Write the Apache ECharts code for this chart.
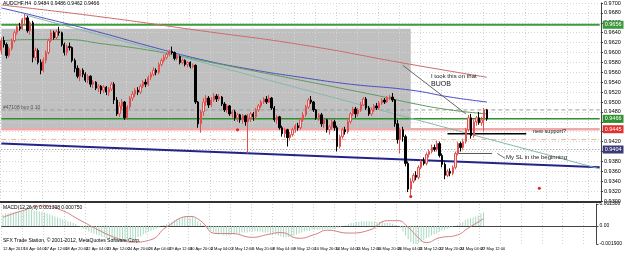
<!DOCTYPE html>
<html>
<head>
<meta charset="utf-8">
<script src="https://cdn.jsdelivr.net/npm/echarts@6/dist/echarts.min.js"></script>
<style>
  html, body { margin: 0; padding: 0; background: #fff; }
  #chart { width: 625px; height: 254px; }
</style>
</head>
<body>
<div id="chart"></div>
<script>
// AUDCHF H4, 12 Apr - 27 May 2013
const tickLabels = ['12 Apr 2013', '16 Apr 04:00', '17 Apr 12:00', '18 Apr 20:00', '22 Apr 04:00', '23 Apr 12:00',
  '24 Apr 20:00', '26 Apr 04:00', '29 Apr 12:00', '30 Apr 20:00', '2 May 04:00', '3 May 12:00', '6 May 20:00',
  '8 May 04:00', '9 May 12:00', '10 May 20:00', '14 May 04:00', '15 May 12:00', '16 May 20:00', '20 May 04:00',
  '21 May 12:00', '22 May 20:00', '24 May 04:00', '27 May 12:00'];
const slots = 229; // bars + empty space on the right

const opens = [0.9604,0.9624,0.9616,0.9594,0.9608,0.9624,0.9640,0.9652,0.9648,0.9666,
  0.9670,0.9644,0.9660,0.9590,0.9604,0.9580,0.9564,0.9584,0.9600,0.9624,
  0.9640,0.9630,0.9642,0.9640,0.9616,0.9600,0.9612,0.9610,0.9584,0.9568,
  0.9552,0.9564,0.9556,0.9544,0.9552,0.9536,0.9540,0.9528,0.9532,0.9524,
  0.9530,0.9520,0.9526,0.9536,0.9504,0.9476,0.9492,0.9500,0.9468,0.9490,
  0.9508,0.9516,0.9524,0.9520,0.9532,0.9540,0.9536,0.9550,0.9556,0.9564,
  0.9560,0.9576,0.9584,0.9590,0.9596,0.9602,0.9600,0.9588,0.9592,0.9580,
  0.9584,0.9576,0.9580,0.9572,0.9574,0.9500,0.9456,0.9480,0.9500,0.9508,
  0.9494,0.9504,0.9512,0.9506,0.9510,0.9496,0.9484,0.9492,0.9476,0.9480,
  0.9468,0.9474,0.9464,0.9472,0.9460,0.9468,0.9476,0.9470,0.9484,0.9492,
  0.9500,0.9506,0.9500,0.9508,0.9488,0.9464,0.9470,0.9448,0.9436,0.9444,
  0.9428,0.9434,0.9444,0.9452,0.9448,0.9464,0.9474,0.9490,0.9504,0.9500,
  0.9484,0.9468,0.9474,0.9456,0.9464,0.9444,0.9450,0.9460,0.9448,0.9410,
  0.9430,0.9444,0.9440,0.9460,0.9476,0.9486,0.9476,0.9484,0.9494,0.9506,
  0.9488,0.9476,0.9484,0.9492,0.9488,0.9498,0.9504,0.9500,0.9508,0.9510,
  0.9504,0.9456,0.9424,0.9444,0.9430,0.9376,0.9324,0.9340,0.9352,0.9348,
  0.9368,0.9380,0.9376,0.9394,0.9400,0.9408,0.9404,0.9416,0.9392,0.9374,
  0.9352,0.9360,0.9356,0.9368,0.9396,0.9416,0.9408,0.9420,0.9444,0.9468,
  0.9432,0.9460,0.9468,0.9458,0.9464,0.9484];
const closes = [0.9624,0.9616,0.9594,0.9608,0.9624,0.9640,0.9652,0.9648,0.9666,0.9670,
  0.9644,0.9660,0.9590,0.9604,0.9580,0.9564,0.9584,0.9600,0.9624,0.9640,
  0.9630,0.9642,0.9640,0.9616,0.9600,0.9612,0.9610,0.9584,0.9568,0.9552,
  0.9564,0.9556,0.9544,0.9552,0.9536,0.9540,0.9528,0.9532,0.9524,0.9530,
  0.9520,0.9526,0.9536,0.9504,0.9476,0.9492,0.9500,0.9468,0.9490,0.9508,
  0.9516,0.9524,0.9520,0.9532,0.9540,0.9536,0.9550,0.9556,0.9564,0.9560,
  0.9576,0.9584,0.9590,0.9596,0.9602,0.9600,0.9588,0.9592,0.9580,0.9584,
  0.9576,0.9580,0.9572,0.9574,0.9500,0.9456,0.9480,0.9500,0.9508,0.9494,
  0.9504,0.9512,0.9506,0.9510,0.9496,0.9484,0.9492,0.9476,0.9480,0.9468,
  0.9474,0.9464,0.9472,0.9460,0.9468,0.9476,0.9470,0.9484,0.9492,0.9500,
  0.9506,0.9500,0.9508,0.9488,0.9464,0.9470,0.9448,0.9436,0.9444,0.9428,
  0.9434,0.9444,0.9452,0.9448,0.9464,0.9474,0.9490,0.9504,0.9500,0.9484,
  0.9468,0.9474,0.9456,0.9464,0.9444,0.9450,0.9460,0.9448,0.9410,0.9430,
  0.9444,0.9440,0.9460,0.9476,0.9486,0.9476,0.9484,0.9494,0.9506,0.9488,
  0.9476,0.9484,0.9492,0.9488,0.9498,0.9504,0.9500,0.9508,0.9510,0.9504,
  0.9456,0.9424,0.9444,0.9430,0.9376,0.9324,0.9340,0.9352,0.9348,0.9368,
  0.9380,0.9376,0.9394,0.9400,0.9408,0.9404,0.9416,0.9392,0.9374,0.9352,
  0.9360,0.9356,0.9368,0.9396,0.9416,0.9408,0.9420,0.9444,0.9468,0.9432,
  0.9460,0.9468,0.9458,0.9464,0.9484,0.9466];
const lows = [0.9596,0.9610,0.9588,0.9590,0.9604,0.9620,0.9636,0.9644,0.9646,0.9656,
  0.9640,0.9636,0.9580,0.9584,0.9576,0.9556,0.9560,0.9578,0.9596,0.9620,
  0.9626,0.9626,0.9634,0.9612,0.9594,0.9594,0.9604,0.9580,0.9560,0.9548,
  0.9542,0.9550,0.9540,0.9538,0.9530,0.9528,0.9524,0.9520,0.9516,0.9518,
  0.9514,0.9512,0.9522,0.9496,0.9472,0.9470,0.9484,0.9464,0.9464,0.9486,
  0.9502,0.9510,0.9514,0.9516,0.9528,0.9530,0.9532,0.9544,0.9552,0.9554,
  0.9556,0.9572,0.9580,0.9586,0.9592,0.9596,0.9584,0.9584,0.9576,0.9576,
  0.9572,0.9570,0.9568,0.9568,0.9496,0.9448,0.9438,0.9472,0.9492,0.9488,
  0.9490,0.9500,0.9500,0.9502,0.9492,0.9480,0.9478,0.9472,0.9468,0.9462,
  0.9460,0.9458,0.9456,0.9452,0.9396,0.9460,0.9462,0.9466,0.9480,0.9488,
  0.9496,0.9496,0.9498,0.9484,0.9460,0.9456,0.9444,0.9430,0.9428,0.9410,
  0.9422,0.9430,0.9438,0.9442,0.9444,0.9460,0.9470,0.9486,0.9496,0.9480,
  0.9464,0.9462,0.9450,0.9448,0.9438,0.9434,0.9444,0.9442,0.9400,0.9406,
  0.9426,0.9434,0.9436,0.9456,0.9472,0.9468,0.9470,0.9480,0.9492,0.9484,
  0.9472,0.9472,0.9480,0.9484,0.9484,0.9494,0.9496,0.9498,0.9504,0.9500,
  0.9450,0.9416,0.9396,0.9420,0.9370,0.9318,0.9312,0.9336,0.9342,0.9344,
  0.9364,0.9372,0.9372,0.9388,0.9396,0.9400,0.9400,0.9388,0.9368,0.9344,
  0.9348,0.9350,0.9352,0.9364,0.9392,0.9400,0.9404,0.9416,0.9440,0.9426,
  0.9428,0.9452,0.9454,0.9452,0.9440,0.9462];
const highs = [0.9630,0.9632,0.9620,0.9612,0.9628,0.9644,0.9656,0.9660,0.9670,0.9678,
  0.9674,0.9664,0.9664,0.9610,0.9608,0.9586,0.9590,0.9604,0.9628,0.9646,
  0.9644,0.9646,0.9652,0.9642,0.9620,0.9616,0.9620,0.9612,0.9588,0.9574,
  0.9568,0.9568,0.9560,0.9556,0.9554,0.9544,0.9542,0.9536,0.9534,0.9534,
  0.9532,0.9530,0.9540,0.9540,0.9510,0.9500,0.9506,0.9502,0.9494,0.9512,
  0.9522,0.9528,0.9530,0.9536,0.9544,0.9546,0.9554,0.9560,0.9570,0.9568,
  0.9580,0.9588,0.9596,0.9600,0.9606,0.9612,0.9602,0.9596,0.9594,0.9588,
  0.9586,0.9582,0.9582,0.9578,0.9576,0.9502,0.9484,0.9508,0.9514,0.9512,
  0.9510,0.9518,0.9516,0.9516,0.9512,0.9500,0.9496,0.9494,0.9484,0.9484,
  0.9478,0.9476,0.9476,0.9474,0.9476,0.9480,0.9480,0.9488,0.9496,0.9504,
  0.9510,0.9512,0.9514,0.9510,0.9492,0.9474,0.9472,0.9452,0.9448,0.9446,
  0.9440,0.9448,0.9456,0.9458,0.9468,0.9480,0.9494,0.9508,0.9512,0.9502,
  0.9486,0.9478,0.9478,0.9468,0.9466,0.9454,0.9466,0.9464,0.9452,0.9434,
  0.9448,0.9450,0.9464,0.9480,0.9490,0.9490,0.9488,0.9500,0.9510,0.9510,
  0.9492,0.9488,0.9496,0.9498,0.9502,0.9508,0.9508,0.9512,0.9514,0.9518,
  0.9506,0.9464,0.9448,0.9450,0.9434,0.9380,0.9346,0.9356,0.9360,0.9372,
  0.9384,0.9388,0.9398,0.9404,0.9414,0.9414,0.9422,0.9420,0.9396,0.9378,
  0.9364,0.9366,0.9372,0.9400,0.9420,0.9420,0.9424,0.9448,0.9474,0.9476,
  0.9464,0.9472,0.9480,0.9470,0.9488,0.9486];

// moving averages, read at a few bars: [bar, price]
const maRed = [[0,0.9696],[38,0.9672],[76,0.9644],[114,0.9616],[156,0.9576],[185,0.9550]];
const maBlue = [[0,0.9690],[19,0.9666],[38,0.9640],[57,0.9612],[76,0.9586],[95,0.9566],[114,0.9550],
  [133,0.9536],[156,0.9524],[171,0.9510],[185,0.9500]];
const maGreen = [[0,0.9624],[11,0.9626],[25,0.9626],[38,0.9618],[57,0.9604],[76,0.9584],[95,0.9564],
  [114,0.9544],[133,0.9524],[146,0.9510],[156,0.9498],[171,0.9484],[185,0.9476]];

// trend lines and drawn segments: [bar, price]
const navyLine = [[0,0.9416],[228,0.9368]];
const tealLine = [[9,0.9676],[228,0.9365]];
const pointerLine = [[153,0.9574],[177,0.9476]];
const supportSeg = [[170,0.9436],[200,0.9436]];
const slSeg = [[174,0.9396],[187,0.9396]];
const slArrow = [[189,0.9396],[192,0.9386]];

// horizontal levels across the chart
const levelTop = 0.9656, levelEntry = 0.9484, levelGreen = 0.9466, levelPink = 0.9445,
  levelOrange = 0.9424, levelDotted = 0.9404;

// MACD(12,26,9)
const macdMain = [0.0012,0.0013,0.0013,0.0014,0.0014,0.0015,0.0015,0.0016,0.0016,0.0017,0.0017,0.0017,0.0016,0.0016,0.0015,0.0015,
  0.0014,0.0013,0.0012,0.0011,0.0010,0.0009,0.0008,0.0007,
  0.0006,0.0005,0.0004,0.0003,0.0002,
  0.0000,-0.0001,-0.0003,-0.0004,-0.0006,-0.0007,-0.0008,-0.0009,-0.0010,-0.0011,-0.0012,-0.0013,-0.0014,-0.0015,-0.0015,-0.0016,-0.0016,-0.0017,-0.0017,-0.0016,-0.0016,-0.0015,
  -0.0014,-0.0012,-0.0011,-0.0009,-0.0008,-0.0006,-0.0005,-0.0004,-0.0003,-0.0002,0.0000,0.0001,0.0002,
  0.0003,0.0004,0.0006,0.0007,0.0008,0.0009,0.0010,0.0010,0.0009,0.0009,0.0008,
  0.0005,0.0003,0.0001,-0.0001,-0.0003,-0.0005,
  -0.0007,-0.0008,-0.0009,-0.0009,-0.0010,-0.0010,-0.0010,-0.0009,-0.0009,-0.0008,-0.0008,
  -0.0007,-0.0007,-0.0007,-0.0006,-0.0006,-0.0006,-0.0006,-0.0006,-0.0007,-0.0007,-0.0007,-0.0008,
  -0.0008,-0.0009,-0.0010,-0.0011,-0.0012,-0.0012,-0.0012,-0.0011,-0.0010,-0.0009,-0.0008,
  -0.0007,-0.0006,-0.0005,-0.0005,-0.0004,-0.0004,-0.0004,-0.0004,-0.0004,-0.0003,-0.0003,-0.0003,
  -0.0003,-0.0003,-0.0002,-0.0001,0.0000,0.0001,0.0002,
  0.0003,0.0003,0.0004,0.0004,0.0005,0.0005,0.0005,0.0005,0.0005,0.0005,0.0004,0.0004,0.0004,0.0003,
  0.0003,0.0003,0.0002,0.0001,0.0000,
  -0.0002,-0.0006,-0.0010,-0.0014,-0.0017,-0.0019,-0.0019,-0.0018,-0.0017,-0.0015,
  -0.0013,-0.0012,-0.0010,-0.0009,-0.0008,-0.0006,-0.0005,-0.0004,-0.0003,-0.0002,-0.0001,0.0000,0.0001,
  0.0003,0.0004,0.0006,0.0007,0.0008,0.0009,0.0010,0.0011,0.0013,0.0014];
const macdSignal = [[0,0.0009],[7,0.00155],[15,0.0021],[22,0.0017],[30,0.00055],[38,-0.0006],[44,-0.0013],
  [50,-0.0017],[57,-0.00145],[63,-0.0001],[72,0.0010],[76,0.00055],[82,-0.0008],[88,-0.0008],[96,-0.0012],
  [102,-0.0009],[107,-0.0007],[114,-0.0013],[120,-0.0009],[125,-0.00045],[133,-0.00075],[141,-0.00045],
  [148,0.00055],[152,0.00055],[156,-0.00015],[160,-0.00125],[163,-0.00175],[168,-0.00125],[175,-0.00095],
  [179,-0.00025],[185,0.00075]];

const categories = [];
for (let i = 0; i < slots; i++) categories.push(String(i));
const candles = opens.map((o, i) => [o, closes[i], lows[i], highs[i]]);

const FONT = '"Liberation Sans Narrow", "Liberation Sans", sans-serif';
const gridDots = { show: true, lineStyle: { color: '#d4d4d4', type: [1, 2], width: 1 } };
const everyEighth = (i) => i % 8 === 0;

function lineSeries(name, data, color, width, extra) {
  return Object.assign({
    name: name, type: 'line', xAxisIndex: 0, yAxisIndex: 0, data: data,
    symbol: 'none', silent: true, lineStyle: { color: color, width: width }
  }, extra || {});
}

// a full-width horizontal line, optionally with a coloured price tag on the axis
function levelSeries(value, color, type, width, tag) {
  const s = lineSeries('level ' + value, [[0, value], [slots - 1, value]], color, width);
  s.lineStyle.type = type;
  if (tag) {
    s.endLabel = { show: true, formatter: value.toFixed(4), color: '#fff', backgroundColor: tag,
      fontSize: 5.5, fontFamily: FONT, padding: [1, 2], distance: 3 };
  }
  return s;
}

function note(text, x, y, size, fill) {
  return { type: 'text', left: x, top: y, z: 50, silent: true,
    style: { text: text, fontSize: size, fontFamily: FONT, fill: fill || '#222' } };
}

const chart = echarts.init(document.getElementById('chart'), null, { renderer: 'canvas' });
chart.setOption({
  animation: false,
  backgroundColor: '#ffffff',
  grid: [
    { left: 0, right: 24, top: 0, height: 201 },
    { left: 0, right: 24, top: 204, height: 40 }
  ],
  xAxis: [
    { type: 'category', gridIndex: 0, data: categories, boundaryGap: true,
      axisLine: { show: false }, axisTick: { show: false }, axisLabel: { show: false },
      splitLine: Object.assign({ interval: everyEighth }, gridDots) },
    { type: 'category', gridIndex: 1, data: categories, boundaryGap: true,
      axisLine: { show: true, lineStyle: { color: '#444' } }, axisTick: { show: false },
      axisLabel: { show: true, interval: 0, showMinLabel: true, showMaxLabel: true, hideOverlap: false,
        align: 'left', margin: 3, fontSize: 4, fontFamily: FONT, color: '#000',
        formatter: (v, i) => (everyEighth(i) && tickLabels[i / 8]) || '' },
      splitLine: Object.assign({ interval: everyEighth }, gridDots) }
  ],
  yAxis: [
    { type: 'value', gridIndex: 0, position: 'right', min: 0.9300, max: 0.9700, interval: 0.0020,
      axisLine: { show: true, lineStyle: { color: '#444' } }, axisTick: { show: true, length: 2, lineStyle: { color: '#444' } },
      axisLabel: { fontSize: 5.5, fontFamily: FONT, color: '#000', margin: 3, formatter: (v) => v.toFixed(4) },
      splitLine: gridDots },
    { type: 'value', gridIndex: 1, position: 'right', min: -0.0019, max: 0.0023,
      axisLine: { show: true, lineStyle: { color: '#444' } },
      axisTick: { show: true, length: 2, customValues: [-0.0019, 0, 0.0023] },
      axisLabel: { fontSize: 5, fontFamily: FONT, color: '#000', margin: 3, customValues: [-0.0019, 0, 0.0023],
        formatter: (v) => (v === 0 ? '0.00' : v.toFixed(6)) },
      splitLine: { show: false } }
  ],
  series: [
    {
      name: 'AUDCHF', type: 'candlestick', xAxisIndex: 0, yAxisIndex: 0, data: candles, silent: true,
      barWidth: '70%', z: 3,
      itemStyle: { color: '#fbe3e3', borderColor: '#e05050', color0: '#000', borderColor0: '#000', borderWidth: 1 },
      markArea: {
        silent: true, z: -1, precision: 5,
        itemStyle: { color: '#c0c0c0' },
        data: [[{ coord: ['min', 0.9648] }, { coord: [156, 0.9446] }]]
      },
      markPoint: {
        silent: true, symbol: 'circle', symbolSize: 3, precision: 5, itemStyle: { color: '#e02020' }, label: { show: false },
        data: [{ coord: [90, 0.9444] }, { coord: [156, 0.9309] }, { coord: [205, 0.9326] }]
      }
    },
    levelSeries(levelTop, '#3d9a3d', 'solid', 2, '#3d9a3d'),
    levelSeries(levelEntry, '#9a9a9a', [4, 3], 1, null),
    levelSeries(levelGreen, '#2f8f2f', 'solid', 1.5, '#2f8f2f'),
    levelSeries(levelPink, '#f0a8a8', 'solid', 2.5, '#e03030'),
    levelSeries(levelOrange, '#e8b490', [5, 2, 1, 2], 1, null),
    levelSeries(levelDotted, '#8a8a8a', [1, 2], 1, '#3b3b78'),
    lineSeries('MA red', maRed, '#cf6b6b', 1, { smooth: true }),
    lineSeries('MA blue', maBlue, '#4d4dc4', 1, { smooth: true }),
    lineSeries('MA green', maGreen, '#5d9c5d', 1, { smooth: true }),
    lineSeries('trend navy', navyLine, '#23238c', 2),
    lineSeries('trend teal', tealLine, '#86b9ae', 1),
    lineSeries('pointer', pointerLine, '#666', 1),
    lineSeries('support', supportSeg, '#000', 1.5),
    lineSeries('sl', slSeg, '#555', 1),
    lineSeries('sl arrow', slArrow, '#777', 1),
    {
      name: 'MACD', type: 'bar', xAxisIndex: 1, yAxisIndex: 1, data: macdMain, silent: true,
      barWidth: 1, itemStyle: { color: '#a9d9c2' }
    },
    {
      name: 'Signal', type: 'line', xAxisIndex: 1, yAxisIndex: 1, data: macdSignal, silent: true,
      symbol: 'none', smooth: true, lineStyle: { color: '#d47f7f', width: 1 }
    }
  ],
  graphic: [
    { type: 'rect', shape: { x: 0, y: 201, width: 601, height: 2 }, style: { fill: '#333' }, silent: true, z: 50 },
    note('AUDCHF,H4  0.9484 0.9486 0.9462 0.9466', 3, 1, 5, '#000'),
    note('#47108 buy 0.10', 3, 105, 5, '#555'),
    note('I took this on that', 431, 73, 6),
    note('BUOB', 431, 81, 7),
    note('new support?', 533, 128, 5.5),
    note('My SL in the beginning', 506, 154, 6),
    note('MACD(12,26,9) 0.001398 0.000750', 3, 205, 5, '#000'),
    note('SFX Trade Station, \u00a9 2001-2012, MetaQuotes Software Corp.', 3, 238, 5, '#000')
  ]
});
</script>
</body>
</html>
